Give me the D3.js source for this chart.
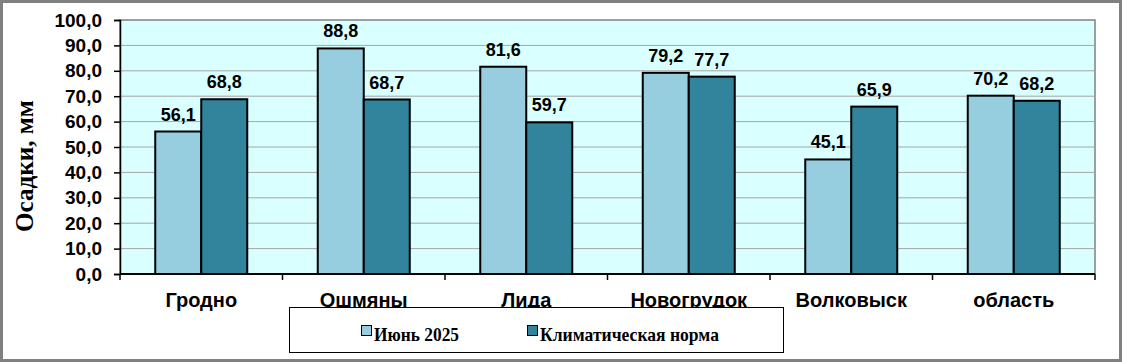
<!DOCTYPE html>
<html><head><meta charset="utf-8">
<script src="https://cdn.jsdelivr.net/npm/d3@7"></script>
<style>body{margin:0;background:#fff}svg{display:block}</style>
</head><body>
<script>
const categories = ["Гродно","Ошмяны","Лида","Новогрудок","Волковыск","область"];
const june2025 = [56.1, 88.8, 81.6, 79.2, 45.1, 70.2];
const climateNorm = [68.8, 68.7, 59.7, 77.7, 65.9, 68.2];
const seriesNames = ["Июнь 2025","Климатическая норма"];
const yTicks = [0,10,20,30,40,50,60,70,80,90,100];

const W = 1122, H = 362;
const plot = {left: 120, right: 1095, top: 20, bottom: 274};
const colors = ["#96cddf", "#31849b"];
const fmt = v => v.toFixed(1).replace(".", ",");

const svg = d3.select("body").append("svg").attr("width", W).attr("height", H);
svg.append("rect").attr("x",1.5).attr("y",1.5).attr("width",W-3).attr("height",H-3)
  .attr("fill","#fff").attr("stroke","#808080").attr("stroke-width",3);

const x0 = d3.scaleBand().domain(categories).range([plot.left, plot.right]);
const x1 = d3.scaleBand().domain([0,1]).range([0, 92]);
const y = d3.scaleLinear().domain([0,100]).range([plot.bottom, plot.top]);

svg.append("rect").attr("x",plot.left).attr("y",plot.top)
  .attr("width",plot.right-plot.left).attr("height",plot.bottom-plot.top)
  .attr("fill","#d9ffff").attr("stroke","#808080").attr("stroke-width",1.5);

svg.append("g").selectAll("line").data(yTicks.filter(t=>t>0 && t<100)).join("line")
  .attr("x1",plot.left).attr("x2",plot.right)
  .attr("y1",d=>y(d)).attr("y2",d=>y(d))
  .attr("stroke","#a6a6a6").attr("stroke-width",1);

const data = categories.map((c,i)=>({c, v:[june2025[i], climateNorm[i]]}));
const g = svg.append("g").selectAll("g").data(data).join("g")
  .attr("transform", d=>`translate(${x0(d.c)+x0.bandwidth()/2-46},0)`);
g.selectAll("rect").data(d=>d.v.map((v,k)=>({v,k}))).join("rect")
  .attr("x",d=>x1(d.k)).attr("width",x1.bandwidth())
  .attr("y",d=>y(d.v)).attr("height",d=>y(0)-y(d.v))
  .attr("fill",d=>colors[d.k]).attr("stroke","#000").attr("stroke-width",2);
g.selectAll("text").data(d=>d.v.map((v,k)=>({v,k}))).join("text")
  .attr("x",d=>x1(d.k)+x1.bandwidth()/2).attr("y",d=>y(d.v)-11)
  .attr("text-anchor","middle").attr("font-family","Liberation Sans, Arial, sans-serif")
  .attr("font-weight","bold").attr("font-size",18).attr("fill","#000")
  .text(d=>fmt(d.v));

// y axis
const yAxis = d3.axisLeft(y).tickValues(yTicks).tickFormat(fmt).tickSize(6).tickPadding(12);
const ya = svg.append("g").attr("transform",`translate(${plot.left},0)`).call(yAxis);
ya.select(".domain").attr("stroke","#000").attr("stroke-width",1.5);
ya.selectAll(".tick line").attr("stroke","#000").attr("stroke-width",1.5);
ya.selectAll("text").attr("font-family","Liberation Sans, Arial, sans-serif")
  .attr("font-weight","bold").attr("font-size",19).attr("fill","#000");

// x axis
const xa = svg.append("g").attr("transform",`translate(0,${plot.bottom})`);
xa.append("line").attr("x1",plot.left).attr("x2",plot.right).attr("y1",0).attr("y2",0)
  .attr("stroke","#000").attr("stroke-width",2);
const bounds = categories.map(c=>x0(c)).concat([plot.right]);
xa.selectAll("line.t").data(bounds).join("line").attr("class","t")
  .attr("x1",d=>d).attr("x2",d=>d).attr("y1",0).attr("y2",6)
  .attr("stroke","#000").attr("stroke-width",1.5);
xa.selectAll("text").data(categories).join("text")
  .attr("x",d=>x0(d)+x0.bandwidth()/2).attr("y",33)
  .attr("text-anchor","middle").attr("font-family","Liberation Sans, Arial, sans-serif")
  .attr("font-weight","bold").attr("font-size",20).attr("fill","#000").text(d=>d);

// y title
svg.append("text").attr("transform","translate(33,166) rotate(-90)")
  .attr("text-anchor","middle").attr("font-family","Liberation Serif, Times New Roman, serif")
  .attr("font-weight","bold").attr("font-size",25).attr("fill","#000")
  .attr("textLength",132).attr("lengthAdjust","spacingAndGlyphs").text("Осадки, мм");

// legend
const lg = svg.append("g");
lg.append("rect").attr("x",289.5).attr("y",307.5).attr("width",494).attr("height",45)
  .attr("fill","#fff").attr("stroke","#000").attr("stroke-width",1);
const legX = [361, 527];
const legLen = [85, 179];
seriesNames.forEach((n,k)=>{
  lg.append("rect").attr("x",legX[k]+0.5).attr("y",325.5).attr("width",10).attr("height",10)
    .attr("fill",colors[k]).attr("stroke","#000").attr("stroke-width",1);
  lg.append("text").attr("x",legX[k]+13).attr("y",341)
    .attr("font-family","Liberation Serif, Times New Roman, serif")
    .attr("font-weight","bold").attr("font-size",19).attr("fill","#000")
    .attr("textLength",legLen[k]).attr("lengthAdjust","spacingAndGlyphs").text(n);
});
</script>
</body></html>
